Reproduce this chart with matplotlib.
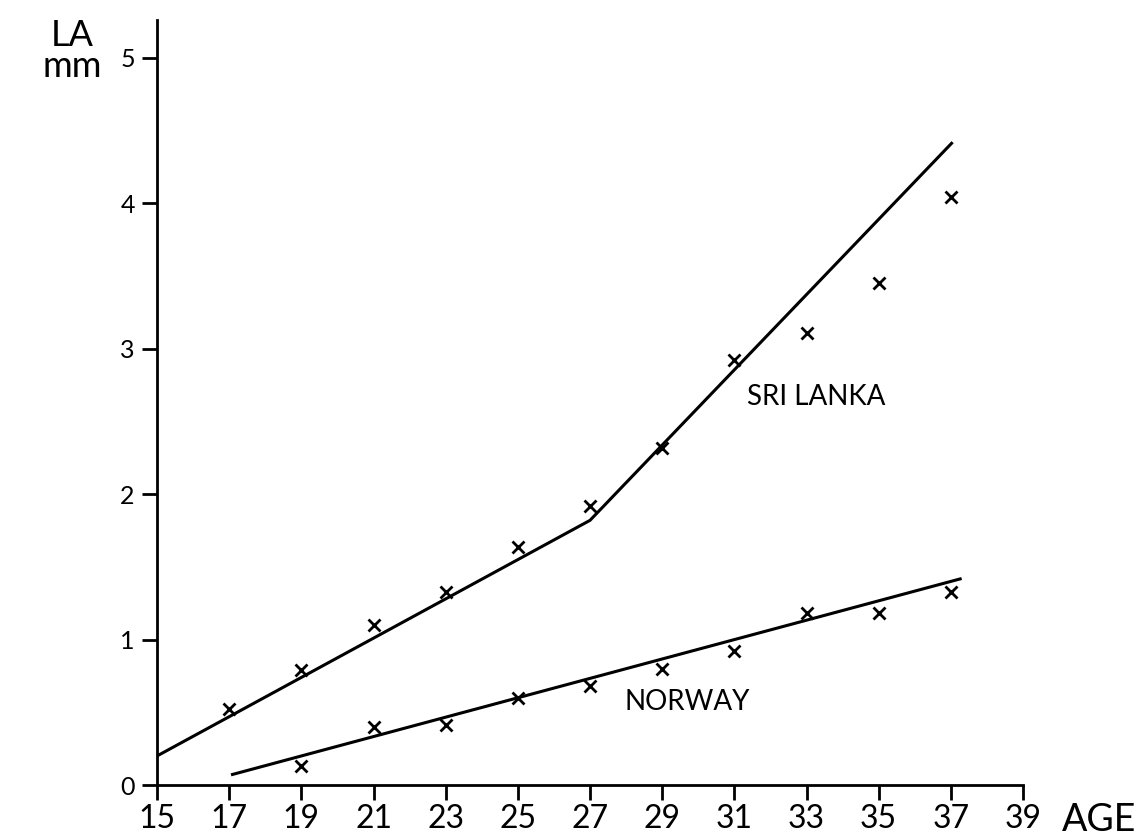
import matplotlib.pyplot as plt

# Leituras do grafico original (idade x LA em mm)
ages = [17, 19, 21, 23, 25, 27, 29, 31, 33, 35, 37]
sri_lanka = [0.52, 0.79, 1.10, 1.33, 1.64, 1.92, 2.32, 2.92, 3.11, 3.45, 4.04]

ages_norway = [19, 21, 23, 25, 27, 29, 31, 33, 35, 37]
norway = [0.13, 0.40, 0.41, 0.60, 0.68, 0.80, 0.92, 1.18, 1.18, 1.33]

# Retas ajustadas desenhadas no grafico
sri_fit_x = [15, 27, 37.05]
sri_fit_y = [0.20, 1.82, 4.42]
nor_fit_x = [17.05, 37.3]
nor_fit_y = [0.07, 1.42]

x_ticks = list(range(15, 40, 2))
y_ticks = [0, 1, 2, 3, 4, 5]

plt.rcParams['font.family'] = ['Lato', 'DejaVu Sans']

fig = plt.figure(figsize=(11.43, 8.38), dpi=100)
ax = fig.add_axes([0.1374, 0.0632, 0.7576, 0.9129])

ax.plot(sri_fit_x, sri_fit_y, color='black', lw=2.2, solid_capstyle='butt')
ax.plot(nor_fit_x, nor_fit_y, color='black', lw=2.2, solid_capstyle='butt')
ax.plot(ages, sri_lanka, 'x', color='black', ms=9, mew=2)
ax.plot(ages_norway, norway, 'x', color='black', ms=9, mew=2)

ax.set_xlim(15, 39)
ax.set_ylim(0, 5.26)
ax.set_xticks(x_ticks)
ax.set_yticks(y_ticks)
ax.tick_params(axis='both', direction='out', width=2, colors='black')
ax.tick_params(axis='x', length=11, pad=3, labelsize=23)
ax.tick_params(axis='y', length=11, pad=5, labelsize=18)

for s in ['top', 'right']:
    ax.spines[s].set_visible(False)
for s in ['left', 'bottom']:
    ax.spines[s].set_linewidth(2)

ax.text(31.34, 2.67, 'SRI LANKA', fontsize=20, ha='left', va='center')
ax.text(27.96, 0.57, 'NORWAY', fontsize=20, ha='left', va='center')

fig.text(0.962, 0.021, 'AGE', fontsize=27, ha='center', va='center')
fig.text(0.063, 0.958, 'LA', fontsize=26, ha='center', va='center')
fig.text(0.063, 0.921, 'mm', fontsize=26, ha='center', va='center')

plt.savefig('out.png', dpi=100)
